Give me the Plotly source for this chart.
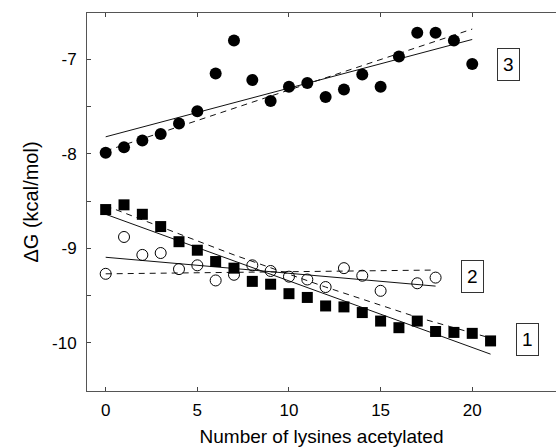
import plotly.graph_objects as go

# Series 3 (filled circles)
x3 = list(range(0, 21))
y3 = [-7.99, -7.93, -7.86, -7.79, -7.68, -7.55, -7.15, -6.80, -7.22, -7.44,
      -7.29, -7.25, -7.40, -7.32, -7.16, -7.29, -6.97, -6.72, -6.72, -6.80, -7.05]

# Series 1 (filled squares)
x1 = list(range(0, 22))
y1 = [-8.59, -8.54, -8.64, -8.77, -8.93, -9.02, -9.14, -9.21, -9.35, -9.38,
      -9.48, -9.52, -9.61, -9.62, -9.68, -9.77, -9.84, -9.77, -9.88, -9.89, -9.90, -9.98]

# Series 2 (open circles)
x2 = [0, 1, 2, 3, 4, 5, 6, 7, 8, 9, 10, 11, 12, 13, 14, 15, 17, 18]
y2 = [-9.27, -8.88, -9.07, -9.05, -9.22, -9.18, -9.34, -9.28, -9.18, -9.24,
      -9.30, -9.33, -9.41, -9.21, -9.29, -9.45, -9.37, -9.31]

# Fit lines (solid and dashed) for each series
fit3_solid_x = [0, 20]
fit3_solid_y = [-7.82, -6.79]
fit3_dash_x = [0, 20]
fit3_dash_y = [-7.97, -6.68]

fit1_solid_x = [0, 21]
fit1_solid_y = [-8.64, -10.12]
fit1_dash_x = [0, 7, 12, 17, 21]
fit1_dash_y = [-8.55, -9.07, -9.41, -9.73, -9.95]

fit2_solid_x = [0, 18]
fit2_solid_y = [-9.095, -9.40]
fit2_dash_x = [0, 18]
fit2_dash_y = [-9.27, -9.23]

x_ticks = [0, 5, 10, 15, 20]
y_ticks = [-10, -9, -8, -7]
y_tick_text = ["-10", "-9", "-8", "-7"]

FONT = "Liberation Sans, Arial, Helvetica, sans-serif"
LINE_C = "#111111"

fig = go.Figure()

def line(xs, ys, dash):
    fig.add_trace(go.Scatter(x=xs, y=ys, mode="lines",
                             line=dict(color=LINE_C, width=1, dash=dash),
                             hoverinfo="skip", showlegend=False))

line(fit3_solid_x, fit3_solid_y, "solid")
line(fit3_dash_x, fit3_dash_y, "6px,5px")
line(fit1_solid_x, fit1_solid_y, "solid")
line(fit1_dash_x, fit1_dash_y, "6px,5px")
line(fit2_solid_x, fit2_solid_y, "solid")
line(fit2_dash_x, fit2_dash_y, "6px,5px")

fig.add_trace(go.Scatter(x=x3, y=y3, mode="markers", showlegend=False,
                         marker=dict(symbol="circle", size=12, color="black")))
fig.add_trace(go.Scatter(x=x1, y=y1, mode="markers", showlegend=False,
                         marker=dict(symbol="square", size=11, color="black")))
fig.add_trace(go.Scatter(x=x2, y=y2, mode="markers", showlegend=False,
                         marker=dict(symbol="circle-open", size=11, color="black",
                                     line=dict(width=1, color="black"))))

for txt, ax, ay in [("3", 22.0, -7.06), ("2", 20.0, -9.30), ("1", 23.0, -9.97)]:
    fig.add_annotation(x=ax, y=ay, text=txt, showarrow=False,
                       font=dict(family=FONT, size=19, color="black"),
                       bordercolor="#333", borderwidth=1, borderpad=5,
                       bgcolor="white")

fig.update_layout(
    width=556, height=447,
    margin=dict(l=87, r=0, t=13, b=56),
    paper_bgcolor="white", plot_bgcolor="white",
    font=dict(family=FONT, size=17, color="black"),
    showlegend=False,
)

fig.update_xaxes(
    range=[-1.02, 24.57], tickvals=x_ticks, ticks="inside", ticklen=4,
    tickcolor="#444", showline=True, linecolor="#555", linewidth=1,
    mirror="ticks", showgrid=False, zeroline=False, automargin=False,
    tickfont=dict(family=FONT, size=17), ticklabelstandoff=4,
    title=dict(text="Number of lysines acetylated",
               font=dict(family=FONT, size=19), standoff=12),
)
fig.update_yaxes(
    range=[-10.51, -6.51], tickvals=y_ticks, ticktext=y_tick_text,
    ticks="inside", ticklen=4, tickcolor="#444",
    minor=dict(tickvals=[-10.5, -9.5, -8.5, -7.5], ticks="inside", ticklen=4, tickcolor="#444"),
    showline=True, linecolor="#555", linewidth=1, showgrid=False, zeroline=False,
    automargin=False, ticklabelstandoff=6,
    tickfont=dict(family=FONT, size=17),
    title=dict(text="ΔG (kcal/mol)", font=dict(family=FONT, size=20), standoff=8),
)

fig.write_html("out.html", config={"displayModeBar": False},
               post_script="document.body.style.margin='0';")
